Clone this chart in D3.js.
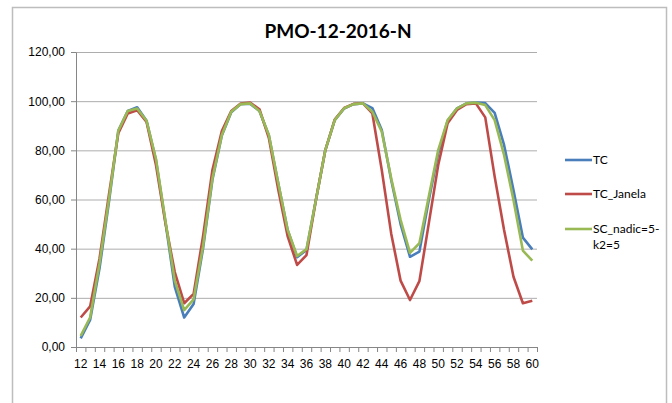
<!DOCTYPE html>
<html lang="pt">
<head>
    <meta charset="UTF-8">
    <title>PMO-12-2016-N</title>
    <script src="https://d3js.org/d3.v7.min.js"></script>
    <style>
        body { margin: 0; background: #fff; }
        svg { display: block; font-family: Lato, "Open Sans", sans-serif; }
        .tick text { font-size: 12px; fill: #000; }
        .grid line { stroke: #adadad; }
        .grid path { display: none; }
    </style>
</head>
<body>
    <svg width="672" height="403"></svg>
<script>
    const categories = [12, 13, 14, 15, 16, 17, 18, 19, 20, 21, 22, 23, 24, 25, 26, 27, 28, 29, 30,
      31, 32, 33, 34, 35, 36, 37, 38, 39, 40, 41, 42, 43, 44, 45, 46, 47, 48, 49, 50,
      51, 52, 53, 54, 55, 56, 57, 58, 59, 60];

    const tc = [3.5, 11, 32, 59, 88, 96, 97.5, 92, 76, 51, 24.5, 12, 17.5, 40, 68, 86, 95.5, 98.8, 99,
      96, 86, 66.5, 47.5, 36.5, 39.5, 59.8, 80, 92.3, 97, 98.8, 99.1, 97.2, 88.3, 68, 50, 36.7, 38.8, 59.8, 78.8,
      92, 97.1, 99.1, 99.4, 99.2, 95.2, 82.2, 63.9, 44.5, 39.7];

    const tcJanela = [12, 16.5, 36, 62, 87, 95, 96.3, 91.5, 74, 50.5, 30.5, 17.8, 21.6, 45, 72, 87.8, 96, 99, 99.4,
      96.7, 85, 64, 45, 33.4, 37.4, 59.8, 80.1, 92.5, 97.2, 98.9, 99.1, 95, 72, 46.2, 27, 19.1, 26.8, 50.3, 74,
      91, 96.4, 98.8, 99.1, 93.4, 69.3, 47.6, 28.6, 17.8, 18.8];

    const scNadic = [4.5, 12, 34, 60, 88, 96, 97, 92, 76.5, 51.5, 27, 15, 19.4, 41, 68.6, 86.2, 95.7, 98.8, 99.1,
      96, 86.2, 66.6, 47.6, 37, 39.8, 59.8, 80.1, 92.3, 97.1, 98.8, 99.1, 95.7, 87.6, 68.6, 51.7, 38.3, 42.2, 61.2, 80.1,
      92.3, 97.1, 99.1, 99.4, 98.4, 92.3, 78.1, 59.8, 39.2, 35.1];

    const xTickLabels = [12, 14, 16, 18, 20, 22, 24, 26, 28, 30, 32, 34, 36, 38, 40, 42, 44, 46, 48, 50, 52, 54, 56, 58, 60];
    const yTicks = [0, 20, 40, 60, 80, 100, 120];

    const series = [
      { name: 'TC', values: tc, color: '#4a7ebb' },
      { name: 'TC_Janela', values: tcJanela, color: '#be4b48' },
      { name: 'SC_nadic=5-k2=5', values: scNadic, color: '#98b954' }
    ];

    const svg = d3.select('svg');

    // chart frame (bottom edge falls outside the picture)
    svg.append('rect')
      .attr('x', 12.5)
      .attr('y', 7.5)
      .attr('width', 654)
      .attr('height', 410)
      .attr('fill', 'none')
      .attr('stroke', '#bdbdbd')
      .attr('stroke-width', 1.5);

    const plot = { left: 76, right: 537, top: 52, bottom: 347 };

    const xScale = d3.scaleBand()
      .domain(categories)
      .range([plot.left, plot.right])
      .padding(0);

    const xPos = (c) => xScale(c) + xScale.bandwidth() / 2;

    const yScale = d3.scaleLinear()
      .domain([0, 120])
      .range([plot.bottom, plot.top]);

    const fmt = d3.formatLocale({ decimal: ',', thousands: '.', grouping: [3], currency: ['', ''] }).format('.2f');

    // grid lines
    svg.append('g')
      .attr('class', 'grid')
      .attr('transform', `translate(${plot.left}, 0)`)
      .call(d3.axisLeft(yScale)
        .tickValues(yTicks.slice(1))
        .tickSize(-(plot.right - plot.left))
        .tickFormat(''));

    // y axis
    const yAxis = svg.append('g')
      .attr('transform', `translate(${plot.left}, 0)`)
      .call(d3.axisLeft(yScale)
        .tickValues(yTicks)
        .tickSize(5)
        .tickSizeOuter(0)
        .tickPadding(6)
        .tickFormat(fmt));
    yAxis.selectAll('line, path').attr('stroke', '#868686');

    // x axis: tick marks between categories
    const xMarks = svg.append('g')
      .attr('transform', `translate(0, ${plot.bottom})`)
      .call(d3.axisBottom(d3.scaleLinear().domain([0, categories.length]).range([plot.left, plot.right]))
        .tickValues(d3.range(0, categories.length + 1))
        .tickSize(5)
        .tickSizeOuter(0)
        .tickFormat(''));
    xMarks.selectAll('line, path').attr('stroke', '#868686');

    // x axis labels
    const xLabels = svg.append('g')
      .attr('transform', `translate(0, ${plot.bottom})`)
      .call(d3.axisBottom(xScale)
        .tickValues(xTickLabels)
        .tickSize(0)
        .tickPadding(12));
    xLabels.select('.domain').remove();

    const line = d3.line()
      .x((d, i) => xPos(categories[i]))
      .y((d) => yScale(d));

    svg.append('g')
      .selectAll('path')
      .data(series)
      .enter()
      .append('path')
      .attr('d', (s) => line(s.values))
      .attr('fill', 'none')
      .attr('stroke', (s) => s.color)
      .attr('stroke-width', 2.6)
      .attr('stroke-linejoin', 'round');

    // legend
    const legend = svg.append('g');
    const legendY = [160, 194, 229];
    series.forEach((s, i) => {
      legend.append('line')
        .attr('x1', 565)
        .attr('x2', 592)
        .attr('y1', legendY[i])
        .attr('y2', legendY[i])
        .attr('stroke', s.color)
        .attr('stroke-width', 2.6);
    });
    legend.append('text').attr('x', 593).attr('y', 164).attr('font-size', 12).text('TC');
    legend.append('text').attr('x', 593).attr('y', 198).attr('font-size', 12).text('TC_Janela');
    legend.append('text').attr('x', 593).attr('y', 233).attr('font-size', 12).text('SC_nadic=5-');
    legend.append('text').attr('x', 593).attr('y', 249).attr('font-size', 12).text('k2=5');

    svg.append('text')
      .attr('x', 338)
      .attr('y', 38)
      .attr('text-anchor', 'middle')
      .attr('font-size', 19)
      .attr('font-weight', 'bold')
      .text('PMO-12-2016-N');
</script>
</body>
</html>
